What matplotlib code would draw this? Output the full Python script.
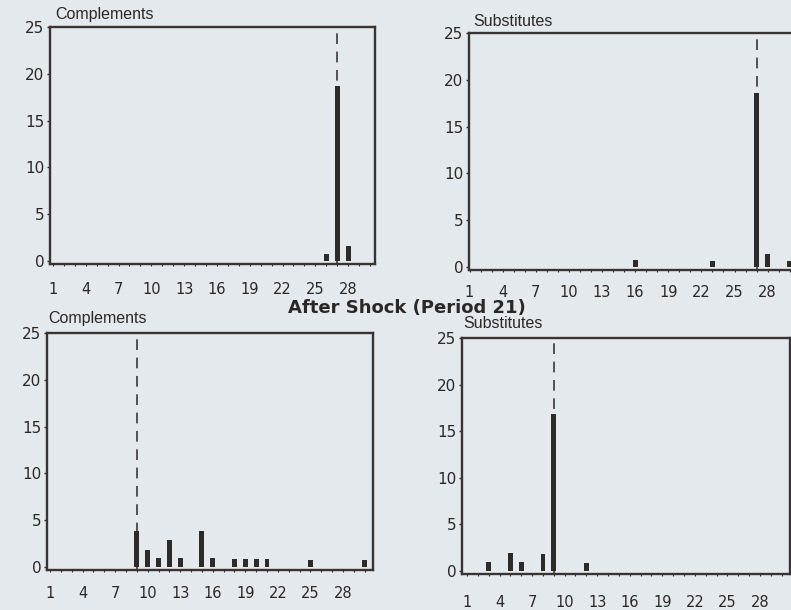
import matplotlib
matplotlib.use("Agg")
import matplotlib.pyplot as plt

# bar heights (percent of subjects per period)
tl_periods = [26, 27, 28]
tl_values = [0.7, 18.7, 1.6]

tr_periods = [16, 23, 27, 28, 30]
tr_values = [0.8, 0.6, 18.6, 1.4, 0.6]

bl_periods = [9, 10, 11, 12, 13, 15, 16, 18, 19, 20, 21, 25, 30]
bl_values = [3.9, 1.8, 1.0, 2.9, 1.0, 3.9, 1.0, 0.9, 0.9, 0.9, 0.9, 0.8, 0.8]

br_periods = [3, 5, 6, 8, 9, 12]
br_values = [1.0, 1.9, 1.0, 1.8, 16.9, 0.9]

# dashed reference line per panel
tl_mark, tr_mark, bl_mark, br_mark = 27, 27, 9, 9

x_ticks = [1, 4, 7, 10, 13, 16, 19, 22, 25, 28]
y_ticks = [0, 5, 10, 15, 20, 25]

W, H = 791, 610
BG = "#e4e9ed"
INK = "#2b2727"

fig = plt.figure(figsize=(W / 100, H / 100), dpi=100, facecolor=BG)


def panel(left, top, right, bottom, xlim, periods, values, mark, xpad):
    ax = fig.add_axes([left / W, 1 - bottom / H, (right - left) / W, (bottom - top) / H])
    ax.set_facecolor("none")
    ax.axvline(mark, color=INK, lw=1.1, dashes=(7, 5), zorder=1)
    ax.bar(periods, values, width=0.45, color="#2e2a2a", zorder=2)
    ax.set_xlim(*xlim)
    ax.set_ylim(-0.35, 25)
    ax.set_xticks(x_ticks)
    ax.set_xticks(range(1, 31), minor=True)
    ax.set_yticks(y_ticks)
    for s in ax.spines.values():
        s.set_linewidth(1.7)
        s.set_color("#3a3333")
    ax.tick_params(axis="y", length=2.5, width=1, pad=1.5, colors=INK, labelsize=11)
    ax.tick_params(axis="x", which="both", length=1.5, width=0.8, pad=xpad,
                   colors=INK, labelsize=10.5)
    for lab in ax.get_xticklabels() + ax.get_yticklabels():
        lab.set_fontfamily("DejaVu Sans")
    return ax


panel(50, 27, 375, 264.3, (0.73, 30.46), tl_periods, tl_values, tl_mark, 11.5)
panel(469, 33, 797, 270.3, (0.95, 30.66), tr_periods, tr_values, tr_mark, 9)
panel(47, 333, 373, 570.3, (0.72, 30.77), bl_periods, bl_values, bl_mark, 10)
panel(462, 338, 790, 574.3, (0.54, 30.77), br_periods, br_values, br_mark, 13.3)

title_kw = dict(fontsize=11.5, family="Liberation Sans", color=INK, va="center")
fig.text(55 / W, 1 - 15 / H, "Complements", **title_kw)
fig.text(473 / W, 1 - 22 / H, "Substitutes", **title_kw)
fig.text(48 / W, 1 - 318 / H, "Complements", **title_kw)
fig.text(463 / W, 1 - 323 / H, "Substitutes", **title_kw)

fig.text(407 / W, 1 - 308 / H, "After Shock (Period 21)", fontsize=13,
         family="DejaVu Sans", weight="bold", color=INK, ha="center", va="center")

fig.savefig("out.png", dpi=100, facecolor=BG)
plt.close(fig)
